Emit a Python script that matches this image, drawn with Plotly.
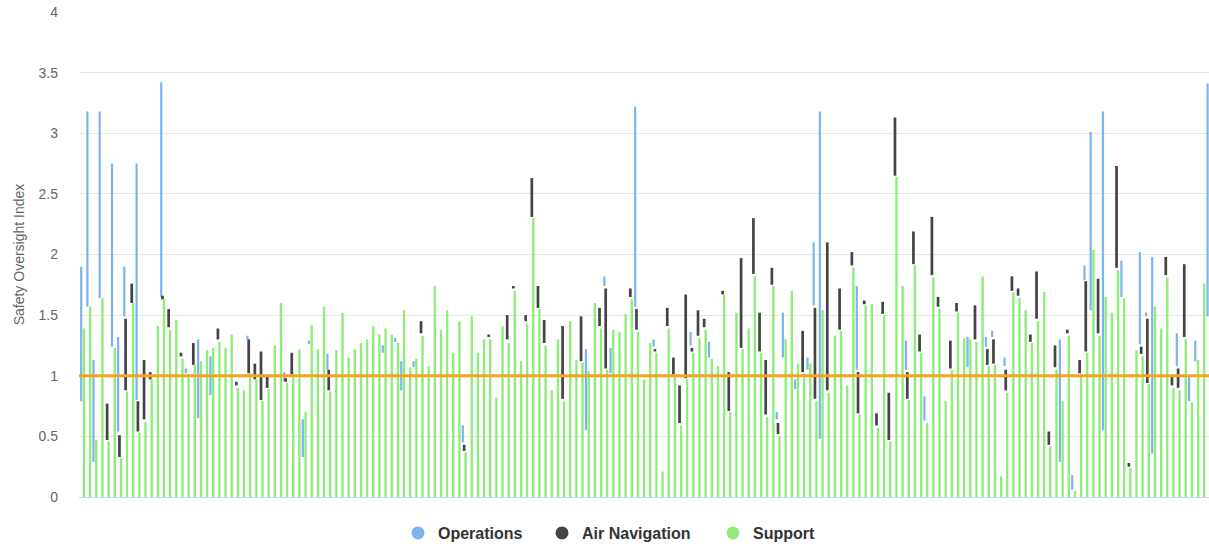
import plotly.graph_objects as go

# ---- data ----
states = list(range(1, 185))  # state positions along the x axis (labels hidden)

support = [
    1.39, 1.57, 0.47, 1.64, 0.46, 1.23, 0.32, 0.87, 1.60, 0.53,
    0.62, 0.97, 1.41, 1.63, 1.38, 1.46, 1.14, 1.01, 1.09, 1.12,
    1.21, 1.23, 1.28, 1.23, 1.34, 0.90, 0.88, 1.02, 0.97, 0.79,
    0.89, 1.25, 1.60, 0.94, 1.00, 1.22, 0.70, 1.42, 1.22, 1.57,
    0.87, 1.21, 1.52, 1.15, 1.22, 1.27, 1.30, 1.41, 1.34, 1.39,
    1.34, 1.27, 1.54, 1.07, 1.14, 1.33, 1.08, 1.74, 1.38, 1.54,
    1.19, 1.45, 0.37, 1.49, 1.19, 1.30, 1.30, 0.82, 1.41, 1.27,
    1.70, 1.12, 1.43, 2.30, 1.55, 1.25, 0.88, 1.30, 0.79, 1.45,
    1.13, 1.11, 1.04, 1.60, 1.39, 1.05, 1.38, 1.36, 1.51, 1.63,
    1.36, 0.97, 1.27, 1.19, 0.21, 1.39, 0.99, 0.59, 0.97, 1.19,
    1.31, 1.38, 1.14, 1.08, 1.67, 0.70, 1.52, 1.22, 1.39, 1.82,
    1.19, 0.66, 1.74, 0.50, 1.30, 1.70, 1.10, 1.02, 1.10, 0.79,
    1.54, 0.86, 1.33, 1.37, 0.92, 1.89, 0.68, 1.58, 1.59, 0.57,
    1.50, 0.46, 2.64, 1.74, 0.80, 1.91, 1.19, 0.61, 1.81, 1.55,
    0.79, 1.05, 1.52, 1.31, 1.30, 1.28, 1.82, 1.08, 1.09, 0.17,
    0.86, 1.69, 1.64, 1.54, 1.27, 1.45, 1.69, 0.42, 1.05, 0.79,
    1.33, 0.05, 1.01, 1.19, 2.04, 1.33, 1.65, 1.52, 1.87, 1.64,
    0.24, 1.21, 1.16, 0.93, 1.57, 1.39, 1.81, 0.90, 0.88, 1.30,
    0.78, 1.13, 1.76, 1.49,
]

ops_state = [1, 2, 3, 4, 6, 7, 8, 10, 14, 18, 20, 22, 28, 34, 37, 38, 41, 50, 52, 53,
             55, 63, 83, 86, 87, 91, 94, 100, 103, 114, 115, 117, 119, 120, 121, 127, 135, 138, 145, 148,
             149, 151, 160, 162, 164, 165, 167, 170, 173, 174, 175, 179, 181, 182, 184]
ops_low = [0.79, 1.57, 0.29, 1.64, 1.24, 0.54, 1.49, 0.80, 1.65, 1.02, 0.65, 0.84, 1.30, 0.96, 0.33, 1.26, 1.05, 1.19, 1.28, 0.88,
           1.07, 0.45, 0.55, 1.74, 1.02, 1.57, 1.24, 1.25, 1.15, 0.64, 1.15, 0.89, 1.05, 1.58, 0.48, 1.05, 1.05, 0.63, 1.07, 1.24,
           1.32, 1.08, 0.29, 0.06, 1.79, 1.54, 0.55, 1.65, 1.26, 1.49, 0.36, 1.08, 0.79, 1.12, 1.49]
ops_high = [1.90, 3.18, 1.13, 3.18, 2.75, 1.32, 1.90, 2.75, 3.42, 1.06, 1.30, 1.16, 1.33, 1.03, 0.64, 1.29, 1.18, 1.25, 1.31, 1.12,
            1.12, 0.59, 1.22, 1.82, 1.23, 3.22, 1.30, 1.36, 1.28, 0.70, 1.52, 0.97, 1.15, 2.10, 3.18, 1.74, 1.29, 0.83, 1.32, 1.32,
            1.37, 1.15, 1.30, 0.18, 1.91, 3.01, 3.18, 1.95, 2.02, 1.52, 1.98, 1.35, 0.99, 1.29, 3.41]

nav_state = [5, 7, 8, 9, 10, 11, 12, 14, 15, 17, 19, 23, 26, 28, 29, 30, 31, 34, 35, 41,
             56, 63, 67, 70, 71, 73, 74, 75, 76, 79, 82, 85, 86, 90, 91, 94, 96, 97, 98, 99,
             100, 101, 102, 105, 106, 108, 110, 111, 112, 113, 114, 118, 120, 122, 124, 126, 127, 128, 130, 131,
             132, 133, 135, 136, 137, 139, 140, 142, 143, 146, 148, 149, 151, 152, 153, 155, 156, 158, 159, 161,
             163, 164, 166, 169, 171, 173, 174, 177, 178, 179, 180]
nav_low = [0.47, 0.33, 0.88, 1.60, 0.54, 0.64, 0.97, 1.63, 1.40, 1.16, 1.09, 1.30, 0.92, 1.02, 0.97, 0.80, 0.90, 0.95, 1.01, 0.88,
           1.35, 0.38, 1.32, 1.30, 1.72, 1.45, 2.31, 1.56, 1.27, 0.81, 1.12, 1.41, 1.06, 1.65, 1.38, 1.20, 1.41, 1.01, 0.61, 0.98,
           1.20, 1.33, 1.40, 1.67, 0.71, 1.23, 1.84, 1.20, 0.68, 1.75, 0.52, 1.03, 0.81, 0.88, 1.38, 1.91, 0.69, 1.59, 0.59, 1.51,
           0.47, 2.65, 0.81, 1.92, 1.20, 1.83, 1.57, 1.06, 1.53, 1.30, 1.09, 1.10, 0.88, 1.70, 1.66, 1.28, 1.47, 0.43, 1.07, 1.35,
           1.02, 1.20, 1.35, 1.89, 0.25, 1.18, 0.94, 1.83, 0.92, 0.90, 1.32]
nav_high = [0.77, 0.51, 1.47, 1.76, 0.79, 1.13, 1.03, 1.66, 1.55, 1.19, 1.27, 1.39, 0.95, 1.30, 1.10, 1.20, 0.99, 0.98, 1.19, 1.05,
            1.45, 0.43, 1.34, 1.50, 1.74, 1.50, 2.63, 1.74, 1.46, 1.41, 1.49, 1.56, 1.72, 1.72, 1.55, 1.22, 1.56, 1.15, 0.92, 1.67,
            1.23, 1.54, 1.47, 1.70, 1.03, 1.97, 2.30, 1.52, 1.13, 1.89, 0.61, 1.37, 1.56, 2.10, 1.72, 2.02, 1.03, 1.62, 0.69, 1.61,
            0.86, 3.13, 1.03, 2.19, 1.34, 2.31, 1.65, 1.29, 1.60, 1.58, 1.22, 1.30, 1.05, 1.82, 1.72, 1.34, 1.86, 0.54, 1.25, 1.38,
            1.13, 1.78, 1.80, 2.73, 0.28, 1.24, 1.47, 1.98, 0.99, 1.06, 1.92]

series_names = ["Operations", "Air Navigation", "Support"]
BLUE, DARK, GREEN = "#7cb5ec", "#434348", "#90ed7d"
ORANGE = "#f7a21b"
FONT = "Liberation Sans, Arial, sans-serif"

fig = go.Figure()

fig.add_trace(go.Bar(
    x=ops_state, base=ops_low, y=[h - l for l, h in zip(ops_low, ops_high)],
    offset=-0.63, width=0.36, marker=dict(color=BLUE, line_width=0),
    name=series_names[0], showlegend=False, hoverinfo="skip"))
fig.add_trace(go.Bar(
    x=nav_state, base=nav_low, y=[h - l for l, h in zip(nav_low, nav_high)],
    offset=-0.46, width=0.44, marker=dict(color=DARK, line_width=0),
    name=series_names[1], showlegend=False, hoverinfo="skip"))
fig.add_trace(go.Bar(
    x=states, y=support,
    offset=-0.195, width=0.39, marker=dict(color=GREEN, line_width=0),
    name=series_names[2], showlegend=False, hoverinfo="skip"))

# legend entries with circular symbols, one legend per item for exact placement
legend_ids = ["legend", "legend2", "legend3"]
for nm, col, lg in zip(series_names, [BLUE, DARK, GREEN], legend_ids):
    fig.add_trace(go.Scatter(x=[None], y=[None], mode="markers", name=nm, legend=lg,
                             marker=dict(size=13, color=col, symbol="circle")))

legend_px = [398, 542, 713]
legend_common = dict(orientation="h", xref="container", yref="container",
                     yanchor="middle", xanchor="left", y=11 / 544,
                     font=dict(family=FONT, size=16, color="#333333", weight="bold"),
                     bgcolor="rgba(0,0,0,0)", borderwidth=0)

fig.add_shape(type="line", xref="paper", x0=0, x1=1, yref="y", y0=1, y1=1,
              line=dict(color=ORANGE, width=3), layer="above")

fig.update_layout(
    width=1209, height=544,
    margin=dict(l=79, r=0, t=12, b=47),
    paper_bgcolor="white", plot_bgcolor="white",
    barmode="overlay",
    font=dict(family=FONT),
    hovermode=False,
    xaxis=dict(range=[0.19, 183.78], showticklabels=False, showgrid=False, zeroline=False,
               showline=True, linecolor="#ccd6eb", linewidth=1, ticks=""),
    yaxis=dict(range=[0, 4], tick0=0, dtick=0.5, showgrid=True, gridcolor="#e6e6e6", gridwidth=1,
               zeroline=False, showline=False, ticks="",
               tickfont=dict(family=FONT, size=14, color="#666666"),
               ticklabelstandoff=20, automargin=False,
               title=dict(text="Safety Oversight Index", standoff=10,
                          font=dict(family=FONT, size=14, color="#666666"))),
    legend=dict(x=legend_px[0] / 1209, **legend_common),
    legend2=dict(x=legend_px[1] / 1209, **legend_common),
    legend3=dict(x=legend_px[2] / 1209, **legend_common),
)

fig.write_html("out.html", config={"displayModeBar": False},
               post_script="document.body.style.margin='0';document.body.style.overflow='hidden';")
